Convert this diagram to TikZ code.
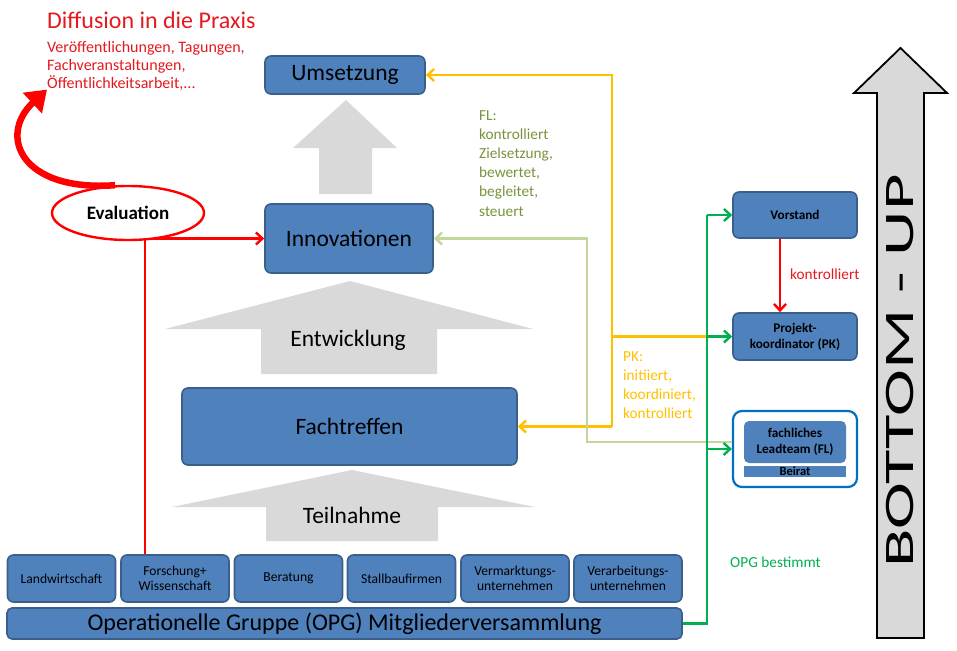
\documentclass[tikz,border=0pt]{standalone}
\usepackage{fontspec}
\setmainfont{Carlito}
\usetikzlibrary{arrows.meta,shapes.geometric,backgrounds}
\definecolor{boxblue}{HTML}{4F81BD}
\definecolor{boxline}{HTML}{3A5F8B}
\definecolor{grayarrow}{HTML}{D9D9D9}
\definecolor{yel}{HTML}{FFC000}
\definecolor{grn}{HTML}{00B050}
\definecolor{lgrn}{HTML}{C3D69B}
\definecolor{olive}{HTML}{77933C}
\definecolor{redtext}{HTML}{E3191F}
\definecolor{flblue}{HTML}{0070C0}
\tikzset{
  bluebox/.style={draw=boxline, fill=boxblue, line width=1.6pt, rounded corners=6pt,
    inner sep=0pt, align=center, text=black},
  bigtext/.style={font=\fontsize{23.5}{26}\selectfont},
  smalltext/.style={font=\fontsize{13.6}{15.5}\selectfont},
  boldsmall/.style={font=\bfseries\fontsize{13.2}{16}\selectfont},
  barb/.style={-{Straight Barb[length=6.5pt,width=12pt,line width=2.4pt]}},
  conn/.style={line width=2.8pt},
}
\begin{document}
\begin{tikzpicture}[x=1pt,y=-1pt]
\useasboundingbox (0,0) rectangle (957,650);

% gray up arrows
\fill[grayarrow] (319,194) -- (319,148) -- (293,148) -- (346,100) -- (397,148) -- (372,148) -- (372,194) -- cycle;
\fill[grayarrow] (261,374) -- (261,329) -- (165,329) -- (350,281) -- (533,329) -- (437,329) -- (437,374) -- cycle;
\fill[grayarrow] (266,541) -- (266,507) -- (172,507) -- (352,470) -- (535,507) -- (438,507) -- (438,541) -- cycle;
\node[bigtext] (entw) at (348,340) {Entwicklung};
\node[bigtext] (teil) at (352,515) {Teilnahme};

% BOTTOM-UP arrow
\draw[fill=grayarrow, line width=1.8pt, line join=miter]
  (877,638) -- (877,93) -- (854,93) -- (900.5,48) -- (947,93) -- (924,93) -- (924,638) -- cycle;
\node[rotate=90] (bu) at (900,371) {\scalebox{1.68}[1]{\fontsize{42}{42}\selectfont BOTTOM - UP}};

% main boxes
\node[bluebox, bigtext, minimum width=160pt, minimum height=38pt] (ums) at (345,75) {Umsetzung};
\node[bluebox, bigtext, minimum width=168pt, minimum height=69pt] (inno) at (349,238.5) {Innovationen};
\node[bluebox, bigtext, minimum width=335pt, minimum height=77pt] (fach) at (349.5,426.5) {Fachtreffen};

% member boxes
\node[bluebox, smalltext, minimum width=108pt, minimum height=47pt] (b1) at (61.5,578.5) {Landwirtschaft};
\node[bluebox, smalltext, minimum width=108pt, minimum height=47pt] (b2) at (175,578.5) {Forschung+\\Wissenschaft};
\node[bluebox, smalltext, minimum width=108pt, minimum height=47pt] (b3) at (288.5,578.5) {Beratung};
\node[bluebox, smalltext, minimum width=108pt, minimum height=47pt] (b4) at (401.5,578.5) {Stallbaufirmen};
\node[bluebox, smalltext, minimum width=108pt, minimum height=47pt] (b5) at (515,578.5) {Vermarktungs-\\unternehmen};
\node[bluebox, smalltext, minimum width=108pt, minimum height=47pt] (b6) at (628,578.5) {Verarbeitungs-\\unternehmen};
\node[bluebox, font=\fontsize{24}{26}\selectfont, minimum width=675pt, minimum height=31pt, rounded corners=5pt] (opg) at (344.5,623.5) {Operationelle Gruppe (OPG) Mitgliederversammlung};

% right side boxes
\node[bluebox, boldsmall, minimum width=124pt, minimum height=46pt] (vor) at (795,215) {Vorstand};
\node[bluebox, boldsmall, minimum width=124pt, minimum height=47pt] (pk) at (795,336.5) {Projekt-\\koordinator (PK)};
\node[draw=flblue, fill=white, line width=2.2pt, rounded corners=9pt, minimum width=124pt, minimum height=76pt, inner sep=0pt] (fl) at (795,449) {};
\node[bluebox, boldsmall, draw=none, rounded corners=5pt, minimum width=102pt, minimum height=42pt] (flin) at (795,442) {fachliches\\Leadteam (FL)};
\node[fill=boxblue, inner sep=0pt, font=\bfseries\fontsize{12.5}{11}\selectfont, minimum width=102pt, minimum height=11pt] (beirat) at (795,471.5) {Beirat};

% Evaluation
\node[ellipse, draw=red, fill=white, line width=2.4pt, minimum width=152pt, minimum height=54pt, inner sep=0pt,
      font=\bfseries\fontsize{19}{19}\selectfont] (ev) at (128,213) {Evaluation};
\begin{scope}[on background layer]
  \draw[red, conn, barb] (ev.center |- inno.west) -- (inno.west);
  \draw[red, conn] ([xshift=17pt]ev.center) -- ([xshift=17pt]ev.center |- b2.north);
\end{scope}

% Diffusion
\node[anchor=base west, inner sep=0pt, text=redtext, font=\fontsize{24}{26}\selectfont] (diff) at (47,29) {Diffusion in die Praxis};
\node[anchor=north west, inner sep=0pt, text=redtext, align=left, font=\fontsize{16}{18}\selectfont] (difftext) at (47,41) {Veröffentlichungen, Tagungen,\\Fachveranstaltungen,\\Öffentlichkeitsarbeit,...};
\draw[red, line width=6.5pt, -{Triangle[length=20pt,width=27pt]}]
  (ev.115) .. controls (20,192) and (-2,135) .. ([yshift=1pt]difftext.south west);

% yellow connectors
\coordinate (yc) at (612,426.5);
\draw[yel, conn, barb] (yc) |- (ums.east);
\draw[yel, conn, barb] (yc) -- (fach.east);
\coordinate (gx) at (707,623.5);
\draw[yel, conn] (yc |- pk.west) -- (gx |- pk.west);

% light green connector
\coordinate (lg) at (587,442);
\draw[lgrn, conn, barb] (fl.west |- lg) -- (lg) |- (inno.east);

% green connectors
\draw[grn, conn] (opg.east) -| (gx |- vor.west);
\draw[grn, conn, barb] (gx |- vor.west) -- (vor.west);
\draw[grn, conn, barb] (gx |- pk.west) -- (pk.west);
\draw[grn, conn, barb] (gx |- fl.west) -- (fl.west);

% red Vorstand -> PK
\draw[red, conn, barb] ([xshift=-15pt]vor.south) -- ([xshift=-15pt]pk.north);

% labels
\node[anchor=north west, inner sep=0pt, text=olive, align=left, font=\fontsize{15.3}{19.2}\selectfont] (fltext) at (479,110) {FL:\\kontrolliert\\Zielsetzung,\\bewertet,\\begleitet,\\steuert};
\node[anchor=north west, inner sep=0pt, text=yel, align=left, font=\fontsize{15.3}{19.2}\selectfont] (pktext) at (623,351) {PK:\\initiiert,\\koordiniert,\\kontrolliert};
\node[anchor=base west, inner sep=0pt, text=redtext, font=\fontsize{15.3}{17}\selectfont] (kontr) at (790,279) {kontrolliert};
\node[anchor=base west, inner sep=0pt, text=grn, font=\fontsize{15.3}{17}\selectfont] (opgb) at (730,567) {OPG bestimmt};
\end{tikzpicture}
\end{document}
